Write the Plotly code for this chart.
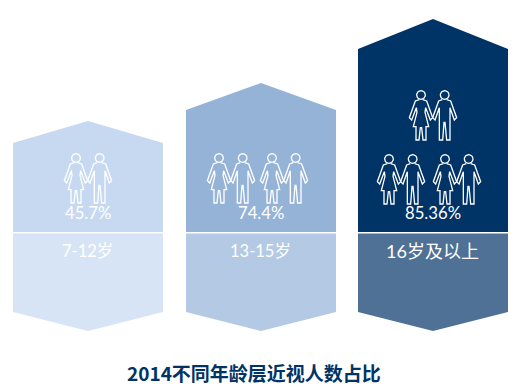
import numpy as np
import plotly.graph_objects as go

# Data
categories = ["7-12岁", "13-15岁", "16岁及以上"]
value_labels = ["45.7%", "74.4%", "85.36%"]
upper_apex = [111, 149, 213]
upper_shoulder = [89, 122, 183]
lower_shoulder = [80, 80, 80]
lower_apex = [99, 99, 99]
title_text = "2014不同年龄层近视人数占比"

# Styling / layout
W, H = 525, 390
DIV = 232  # pixel row of the divider
centers = [88, 261, 433]
half = 75
upper_colors = ["#C6D9F1", "#95B3D7", "#003366"]
lower_colors = ["#D7E4F5", "#B4C9E3", "#4F7196"]
label_sizes = [16.5, 16.5, 18]
CJK = "Lato, 'Noto Sans CJK SC', sans-serif"
y_of = lambda py: DIV - py

# icon rows: female-head pixel x for each pair, per bar; (head y, pairs)
icon_rows = [
    [(158, [76])],
    [(158, [219, 272])],
    [(95, [421]), (159, [389, 445])],
]

# pair outline relative to the female head, in 3x-zoom units
female = [(-5, 14), (-17, 18), (-35, 68), (-28, 75), (-14, 38), (-12, 52), (-23, 95), (-15, 95), (-15, 135),
          (-6, 135), (-2, 98), (2, 98), (6, 135), (15, 135), (15, 95), (23, 95), (12, 52), (14, 38),
          (28, 75), (35, 68), (17, 18), (5, 14)]
male = [(64, 14), (53, 18), (35, 68), (42, 75), (55, 38), (55, 135), (65, 135), (69, 82), (72, 82),
        (77, 135), (87, 135), (87, 38), (100, 75), (107, 68), (89, 18), (77, 14)]


def pair_xy(hx, hy):
    xs, ys = [], []
    t = np.linspace(0, 2 * np.pi, 25)
    for cx in (0, 71):
        xs += list(hx + (cx + 13 * np.cos(t)) / 3) + [None]
        ys += list(y_of(hy) + 13 * np.sin(t) / 3) + [None]
    for outline in (female, male):
        xs += [hx + p[0] / 3 for p in outline] + [None]
        ys += [y_of(hy + p[1] / 3) for p in outline] + [None]
    return xs, ys


fig = go.Figure()
for i, c in enumerate(centers):
    fig.add_trace(go.Scatter(
        x=[c - half, c, c + half, c + half, c - half, c - half],
        y=[upper_shoulder[i], upper_apex[i], upper_shoulder[i], 0, 0, upper_shoulder[i]],
        mode="lines", fill="toself", fillcolor=upper_colors[i], line=dict(width=0),
        hoverinfo="skip", showlegend=False))
    fig.add_trace(go.Scatter(
        x=[c - half, c + half, c + half, c, c - half, c - half],
        y=[-1.5, -1.5, -lower_shoulder[i], -lower_apex[i], -lower_shoulder[i], -1.5],
        mode="lines", fill="toself", fillcolor=lower_colors[i], line=dict(width=0),
        hoverinfo="skip", showlegend=False))
    for hy, heads in icon_rows[i]:
        for hx in heads:
            xs, ys = pair_xy(hx, hy)
            fig.add_trace(go.Scatter(x=xs, y=ys, mode="lines",
                                     line=dict(color="white", width=1.3),
                                     hoverinfo="skip", showlegend=False))
    fig.add_annotation(x=c, y=y_of(213), text=value_labels[i], showarrow=False,
                       font=dict(family=CJK, size=16.7, color="white"))
    fig.add_annotation(x=c - 0.5, y=y_of(251), text=categories[i], showarrow=False,
                       font=dict(family=CJK, size=label_sizes[i], color="white"))

fig.add_annotation(x=253.5, y=y_of(372), text=f"<b>{title_text}</b>", showarrow=False,
                   font=dict(family="'Noto Sans CJK SC', sans-serif", size=19, color="#003366"))

fig.update_layout(
    width=W, height=H, margin=dict(l=0, r=0, t=0, b=0),
    paper_bgcolor="white", plot_bgcolor="white", showlegend=False,
    xaxis=dict(range=[0, W], visible=False, fixedrange=True),
    yaxis=dict(range=[y_of(H), y_of(0)], visible=False, fixedrange=True),
)
fig.write_html("out.html", config={"displayModeBar": False},
               post_script="document.body.style.margin='0';document.body.style.overflow='hidden';")
